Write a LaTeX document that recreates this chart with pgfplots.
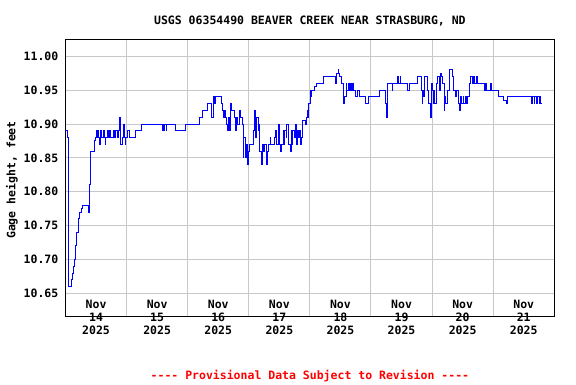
\documentclass[border=0pt]{standalone}
\usepackage{pgfplots}
\pgfplotsset{compat=1.18}
\usepackage{fontspec}
\newfontfamily\usgs{DejaVu Sans Mono}
\definecolor{gridgray}{RGB}{200,200,200}
\newcommand{\usgsfont}{\usgs\fontsize{11.5}{12.7}\selectfont\bfseries}
\begin{document}
\begin{tikzpicture}[x=1pt,y=1pt]
\useasboundingbox (-65.5,-68) rectangle (510.5,316);
\begin{axis}[
 at={(0,0)}, anchor=south west,
 scale only axis, width=488.8pt, height=276.7pt,
 xmin=0, xmax=8, ymin=10.6165, ymax=11.0251,
 axis line style={line width=1pt, black},
 xtick={0.5,1.5,2.5,3.5,4.5,5.5,6.5,7.5},
 xticklabels={Nov\\14\\2025,Nov\\15\\2025,Nov\\16\\2025,Nov\\17\\2025,Nov\\18\\2025,Nov\\19\\2025,Nov\\20\\2025,Nov\\21\\2025},
 minor xtick={1,2,3,4,5,6,7},
 xmajorgrids=false, xminorgrids=true, ymajorgrids=true,
 grid style={gridgray, line width=1pt},
 minor grid style={gridgray, line width=1pt},
 major tick length=0pt, minor tick length=0pt,
 ytick={10.65,10.70,10.75,10.80,10.85,10.90,10.95,11.00},
 yticklabels={10.65,10.70,10.75,10.80,10.85,10.90,10.95,11.00},
 xticklabel style={font=\usgsfont, align=center, anchor=base, yshift=-18pt},
 yticklabel style={font=\usgsfont, anchor=east, inner sep=0pt, xshift=-7pt},
]
\addplot[const plot, blue, line width=1pt] coordinates {
(0.000,10.89) (0.025,10.88) (0.041,10.865) (0.046,10.73) (0.057,10.66)
(0.101,10.67) (0.118,10.68) (0.134,10.69) (0.151,10.70) (0.160,10.72)
(0.177,10.73) (0.188,10.74) (0.205,10.76) (0.237,10.77) (0.259,10.775)
(0.275,10.78) (0.373,10.77) (0.385,10.81) (0.401,10.85) (0.417,10.86)
(0.471,10.875) (0.488,10.88) (0.504,10.89) (0.524,10.88) (0.537,10.89)
(0.548,10.88) (0.560,10.87) (0.570,10.88) (0.581,10.89) (0.597,10.88)
(0.622,10.89) (0.635,10.88) (0.648,10.87) (0.660,10.88) (0.684,10.89)
(0.696,10.88) (0.728,10.89) (0.740,10.88) (0.790,10.89) (0.802,10.88)
(0.815,10.89) (0.843,10.88) (0.867,10.89) (0.881,10.91) (0.897,10.87)
(0.936,10.88) (0.946,10.89) (0.957,10.90) (0.969,10.88) (0.979,10.87)
(0.990,10.88) (1.007,10.89) (1.044,10.88) (1.142,10.89) (1.252,10.90)
(1.584,10.89) (1.596,10.90) (1.612,10.89) (1.628,10.90) (1.650,10.89)
(1.661,10.90) (1.804,10.89) (1.967,10.90) (2.185,10.91) (2.239,10.92)
(2.327,10.93) (2.393,10.91) (2.419,10.94) (2.435,10.93) (2.452,10.94)
(2.556,10.93) (2.566,10.92) (2.583,10.91) (2.606,10.92) (2.622,10.91)
(2.638,10.90) (2.655,10.89) (2.665,10.91) (2.681,10.89) (2.704,10.93)
(2.725,10.92) (2.769,10.91) (2.782,10.89) (2.796,10.91) (2.812,10.90)
(2.851,10.92) (2.868,10.91) (2.894,10.90) (2.910,10.85) (2.921,10.88)
(2.938,10.85) (2.959,10.87) (2.975,10.84) (2.987,10.86) (3.015,10.87)
(3.069,10.89) (3.097,10.92) (3.106,10.88) (3.118,10.91) (3.151,10.89)
(3.162,10.90) (3.178,10.86) (3.216,10.84) (3.227,10.87) (3.244,10.86)
(3.254,10.87) (3.286,10.84) (3.303,10.86) (3.319,10.87) (3.347,10.88)
(3.363,10.87) (3.424,10.88) (3.440,10.89) (3.457,10.87) (3.478,10.88)
(3.489,10.90) (3.506,10.87) (3.522,10.86) (3.543,10.87) (3.560,10.89)
(3.576,10.87) (3.592,10.89) (3.609,10.88) (3.625,10.90) (3.642,10.87)
(3.682,10.86) (3.699,10.89) (3.715,10.87) (3.723,10.89) (3.748,10.88)
(3.764,10.90) (3.781,10.87) (3.797,10.89) (3.813,10.88) (3.830,10.89)
(3.846,10.87) (3.859,10.88) (3.871,10.90) (3.887,10.905) (3.920,10.90)
(3.941,10.91) (3.957,10.92) (3.969,10.91) (3.985,10.93) (4.007,10.95)
(4.018,10.94) (4.034,10.95) (4.083,10.955) (4.100,10.96) (4.219,10.97)
(4.422,10.96) (4.430,10.97) (4.443,10.975) (4.465,10.98) (4.473,10.975)
(4.481,10.97) (4.520,10.96) (4.547,10.945) (4.558,10.93) (4.574,10.94)
(4.591,10.96) (4.607,10.95) (4.624,10.96) (4.640,10.95) (4.664,10.96)
(4.681,10.95) (4.697,10.96) (4.717,10.95) (4.743,10.94) (4.771,10.95)
(4.808,10.94) (4.918,10.93) (4.956,10.94) (5.136,10.95) (5.245,10.93)
(5.254,10.91) (5.273,10.96) (5.344,10.95) (5.360,10.96) (5.430,10.97)
(5.458,10.96) (5.475,10.97) (5.491,10.96) (5.594,10.95) (5.622,10.96)
(5.758,10.97) (5.823,10.95) (5.835,10.93) (5.851,10.95) (5.867,10.94)
(5.879,10.97) (5.921,10.95) (5.941,10.93) (5.966,10.91) (5.987,10.96)
(6.007,10.95) (6.015,10.93) (6.031,10.95) (6.047,10.93) (6.064,10.96)
(6.085,10.97) (6.113,10.95) (6.141,10.975) (6.162,10.97) (6.178,10.96)
(6.195,10.92) (6.206,10.94) (6.227,10.93) (6.249,10.95) (6.277,10.98)
(6.331,10.97) (6.358,10.95) (6.383,10.94) (6.407,10.95) (6.440,10.93)
(6.456,10.92) (6.468,10.94) (6.489,10.93) (6.506,10.94) (6.522,10.93)
(6.547,10.94) (6.571,10.93) (6.587,10.94) (6.604,10.96) (6.628,10.97)
(6.658,10.96) (6.678,10.97) (6.702,10.96) (6.727,10.97) (6.751,10.96)
(6.854,10.95) (6.871,10.96) (6.887,10.95) (6.953,10.96) (6.980,10.95)
(7.090,10.94) (7.172,10.935) (7.214,10.93) (7.237,10.94) (7.635,10.93)
(7.651,10.94) (7.668,10.93) (7.684,10.94) (7.709,10.93) (7.725,10.94)
(7.750,10.93) (7.766,10.94) (7.782,10.93) (7.799,10.93)
};
\end{axis}
\node[anchor=base, inner sep=0pt, font=\usgsfont] at (244.4,292) {USGS 06354490 BEAVER CREEK NEAR STRASBURG, ND};
\node[anchor=center, inner sep=0pt, rotate=90, font=\usgsfont] at (-53.5,136) {Gage height, feet};
\node[anchor=base, inner sep=0pt, font=\usgsfont, text=red] at (244.4,-63) {---- Provisional Data Subject to Revision ----};
\end{tikzpicture}
\end{document}
